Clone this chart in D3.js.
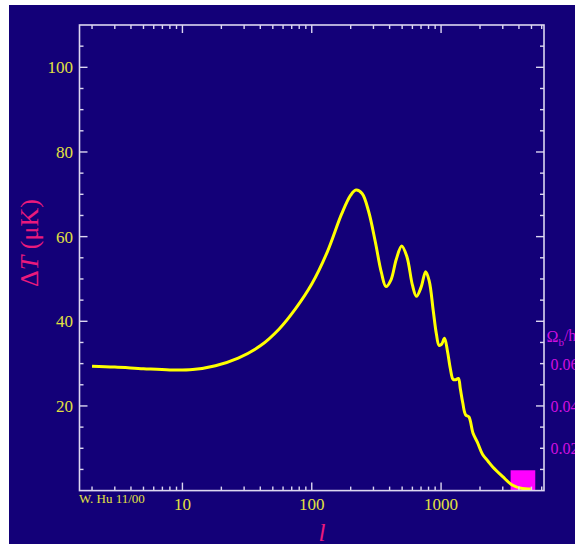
<!DOCTYPE html>
<html>
<head>
<meta charset="utf-8">
<script src="https://cdn.jsdelivr.net/npm/d3@7"></script>
<style>
  body { margin: 0; background: #ffffff; }
  svg { display: block; }
</style>
</head>
<body>
<div id="chart"></div>
<script>
// multipole l and temperature anisotropy dT (uK)
var ells = [2, 3, 5, 8, 12, 18, 27, 40, 56, 75, 100, 132, 170, 200, 220, 245, 275, 310, 345, 375, 410, 450, 496, 545, 600, 645, 700, 760, 810, 870, 920, 965, 1010, 1063, 1120, 1180, 1239, 1300, 1360, 1410, 1470, 1548, 1642, 1764, 1911, 2090, 2300, 2510, 3000, 3520, 4240, 4950]
var dT = [29.4, 29.2, 28.8, 28.5, 28.6, 29.5, 31.3, 34.2, 38.2, 43.0, 48.8, 56.4, 65.3, 69.8, 71.0, 70.2, 66.0, 58.8, 51.6, 48.2, 49.8, 54.6, 57.8, 55.2, 48.6, 45.9, 48.0, 51.7, 49.5, 42.5, 37.0, 34.3, 34.6, 36.0, 33.0, 28.8, 26.3, 26.2, 26.5, 24.0, 20.8, 17.9, 17.4, 13.6, 11.4, 8.6, 7.0, 5.6, 3.3, 1.4, 0.5, 0.4]

// tick labels
var xLabels = [10, 100, 1000]
var yLabels = [20, 40, 60, 80, 100]
var omegaLabels = [0.02, 0.04, 0.06]

// magenta box (l range, dT range)
var boxL = [3450, 5350]
var boxT = [0, 4.8]

var W = 575, H = 544
var margin = { top: 25, left: 79.5, right: 31, bottom: 53.4 }
var width = W - margin.left - margin.right
var height = H - margin.top - margin.bottom

var svg = d3.select('#chart')
  .append('svg')
  .attr('width', W)
  .attr('height', H)

// navy background
svg.append('rect')
  .attr('x', 9).attr('y', 5)
  .attr('width', W - 9).attr('height', H - 5)
  .attr('fill', '#130078')

var g = svg.append('g')
  .attr('transform', 'translate(' + margin.left + ',' + margin.top + ')')

var x = d3.scaleLog().domain([1.6, 6250]).range([0, width])
var y = d3.scaleLinear().domain([0, 110]).range([height, 0])
// secondary scale for the Omega_b labels
var y2 = d3.scaleLinear().domain([0, 0.06]).range([y(0), y(29.9)])

var frameColor = '#dcd6f0'
var labelColor = '#e2e040'

// magenta box under the curve
g.append('rect')
  .attr('x', x(boxL[0]))
  .attr('y', y(boxT[1]))
  .attr('width', x(boxL[1]) - x(boxL[0]))
  .attr('height', y(boxT[0]) - y(boxT[1]))
  .attr('fill', '#ff00ff')

// the curve
var line = d3.line()
  .x(function(d, i) { return x(ells[i]) })
  .y(function(d) { return y(d) })
  .curve(d3.curveCatmullRom.alpha(0.5))

g.append('path')
  .datum(dT)
  .attr('d', line)
  .attr('fill', 'none')
  .attr('stroke', '#ffff00')
  .attr('stroke-width', 3)
  .attr('stroke-linejoin', 'round')

// frame
g.append('rect')
  .attr('width', width)
  .attr('height', height)
  .attr('fill', 'none')
  .attr('stroke', frameColor)
  .attr('stroke-width', 1.6)

// x ticks, top and bottom, pointing inward
var xTicks = x.ticks()
xTicks.forEach(function(t) {
  var major = Math.abs(Math.log10(t) - Math.round(Math.log10(t))) < 1e-9
  var len = major ? 8 : 4
  g.append('line')
    .attr('x1', x(t)).attr('x2', x(t))
    .attr('y1', height).attr('y2', height - len)
    .attr('stroke', frameColor).attr('stroke-width', 1.4)
  g.append('line')
    .attr('x1', x(t)).attr('x2', x(t))
    .attr('y1', 0).attr('y2', len)
    .attr('stroke', frameColor).attr('stroke-width', 1.4)
})

// y ticks, left and right
d3.range(5, 110, 5).forEach(function(t) {
  var len = t % 20 === 0 ? 8 : 4
  g.append('line')
    .attr('x1', 0).attr('x2', len)
    .attr('y1', y(t)).attr('y2', y(t))
    .attr('stroke', frameColor).attr('stroke-width', 1.4)
  g.append('line')
    .attr('x1', width).attr('x2', width - len)
    .attr('y1', y(t)).attr('y2', y(t))
    .attr('stroke', frameColor).attr('stroke-width', 1.4)
})

// tick labels
g.selectAll('.xlab')
  .data(xLabels)
  .enter()
  .append('text')
  .attr('x', function(d) { return x(d) })
  .attr('y', height + 19.5)
  .attr('text-anchor', 'middle')
  .attr('font-family', 'Liberation Serif, serif')
  .attr('font-size', 17)
  .attr('fill', labelColor)
  .text(function(d) { return d })

g.selectAll('.ylab')
  .data(yLabels)
  .enter()
  .append('text')
  .attr('x', -6.5)
  .attr('y', function(d) { return y(d) })
  .attr('dy', '0.35em')
  .attr('text-anchor', 'end')
  .attr('font-family', 'Liberation Serif, serif')
  .attr('font-size', 17)
  .attr('fill', labelColor)
  .text(function(d) { return d })

// Omega_b labels on the right, cut by the page edge as in the original
g.selectAll('.olab')
  .data(omegaLabels)
  .enter()
  .append('text')
  .attr('x', width + 6.5)
  .attr('y', function(d) { return y2(d) })
  .attr('dy', '0.35em')
  .attr('font-family', 'Liberation Serif, serif')
  .attr('font-size', 16)
  .attr('fill', '#d010e0')
  .text(function(d) { return d.toFixed(2) })

var om = g.append('text')
  .attr('x', width + 2.5)
  .attr('y', y2(0.073))
  .attr('dy', '0.35em')
  .attr('font-family', 'Liberation Serif, serif')
  .attr('font-size', 16)
  .attr('fill', '#d010e0')
om.append('tspan').text('\u03A9')
om.append('tspan').attr('font-size', 11).attr('dy', '0.3em').text('b')
om.append('tspan').attr('dy', '-0.3em').text('/h\u00B2')

// axis titles
var yt = svg.append('text')
  .attr('transform', 'translate(38,243) rotate(-90)')
  .attr('text-anchor', 'middle')
  .attr('font-family', 'Liberation Serif, serif')
  .attr('font-size', 26)
  .attr('fill', '#ea1a7c')
yt.append('tspan').text('\u0394')
yt.append('tspan').attr('font-style', 'italic').text('T')
yt.append('tspan').text(' (\u03BCK)')

svg.append('text')
  .attr('x', 322)
  .attr('y', 541)
  .attr('text-anchor', 'middle')
  .attr('font-family', 'Liberation Serif, serif')
  .attr('font-style', 'italic')
  .attr('font-size', 25)
  .attr('fill', '#ea1a7c')
  .text('l')

// credit
svg.append('text')
  .attr('x', 79)
  .attr('y', 503)
  .attr('font-family', 'Liberation Serif, serif')
  .attr('font-size', 13)
  .attr('fill', labelColor)
  .text('W. Hu 11/00')
</script>
</body>
</html>
